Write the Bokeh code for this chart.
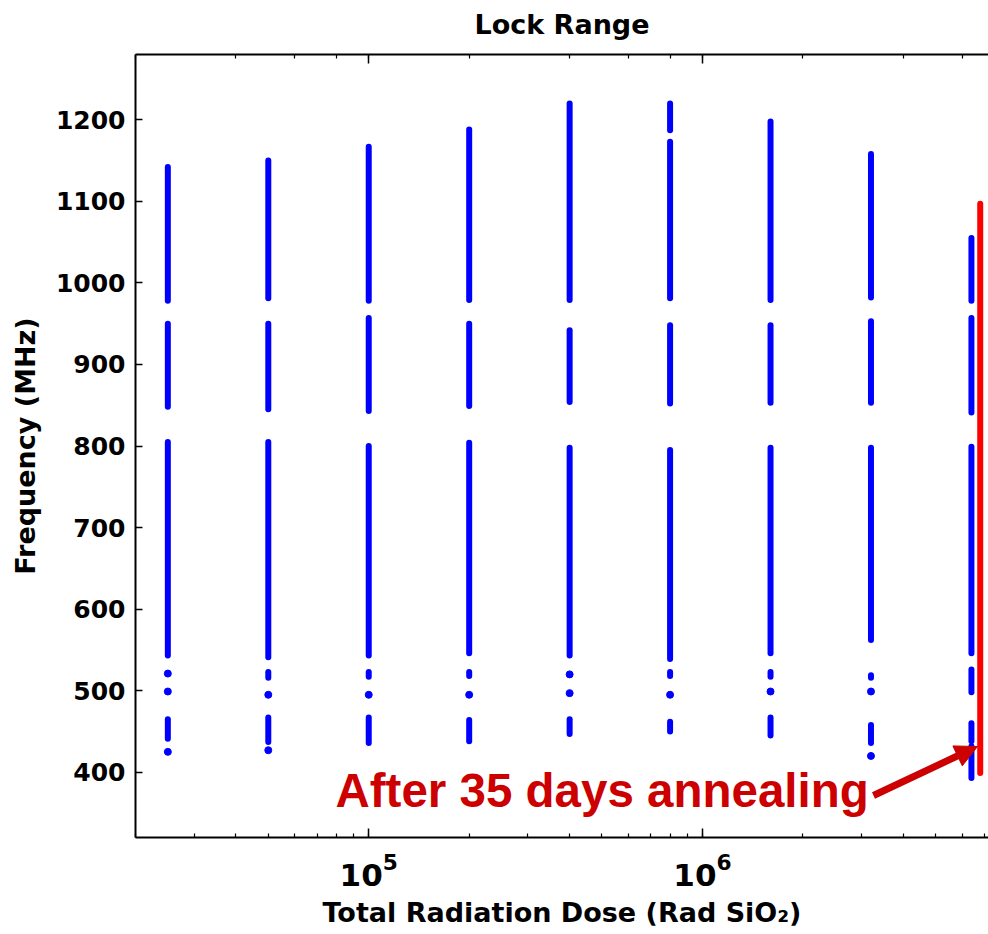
import math
from bokeh.plotting import figure
from bokeh.models import (Label, Arrow, NormalHead, FixedTicker, LogAxis,
                          CustomJSTickFormatter, Range1d, Title)
from bokeh.embed import file_html
from bokeh.resources import INLINE

# ---------------- data ----------------
# locked-frequency ranges (MHz) measured at each total dose (rad SiO2)
seg_dose = [2.5e4, 2.5e4, 2.5e4, 2.5e4,
            5e4, 5e4, 5e4, 5e4, 5e4,
            1e5, 1e5, 1e5, 1e5, 1e5,
            2e5, 2e5, 2e5, 2e5, 2e5,
            4e5, 4e5, 4e5, 4e5,
            8e5, 8e5, 8e5, 8e5, 8e5, 8e5,
            1.6e6, 1.6e6, 1.6e6, 1.6e6, 1.6e6,
            3.2e6, 3.2e6, 3.2e6, 3.2e6, 3.2e6,
            6.4e6, 6.4e6, 6.4e6, 6.4e6, 6.4e6, 6.4e6]
seg_lo = [978, 848, 543, 441,
          981, 845, 541, 516, 437,
          978, 843, 543, 517, 436,
          979, 849, 546, 518, 438,
          979, 854, 543, 447,
          1187, 981, 852, 539, 518, 450,
          979, 853, 546, 517, 445,
          982, 853, 562, 516, 436,
          978, 841, 546, 498, 438, 393]
seg_hi = [1142, 950, 805, 465,
          1150, 950, 805, 523, 467,
          1167, 957, 800, 523, 467,
          1188, 950, 804, 523, 464,
          1220, 942, 798, 465,
          1220, 1173, 948, 795, 523, 462,
          1198, 948, 798, 523, 467,
          1158, 953, 798, 519, 458,
          1055, 957, 799, 526, 460, 432]
# isolated single lock points
dot_dose = [2.5e4, 2.5e4, 2.5e4, 5e4, 5e4, 1e5, 2e5, 4e5, 4e5, 8e5, 1.6e6, 3.2e6, 3.2e6]
dot_freq = [521, 499, 425, 495, 427, 495, 495, 520, 497, 495, 499, 499, 420]
# after 35 days annealing
anneal_dose = [6.8e6]
anneal_lo = [399]
anneal_hi = [1097]

y_ticks = [400, 500, 600, 700, 800, 900, 1000, 1100, 1200]

# ---------------- layout helpers ----------------
X0, X1 = 2e4, 7.2e6
Y0, Y1 = 320, 1280
FL, FR, FT, FB = 135, 988, 54, 837


def x_at(px):
    lx0, lx1 = math.log10(X0), math.log10(X1)
    return 10 ** (lx0 + (px - FL) * (lx1 - lx0) / (FR - FL))


def y_at(py):
    return Y0 + (FB - py) * (Y1 - Y0) / (FB - FT)


FONT = "DejaVu Sans"

p = figure(width=988, height=934, x_axis_type="log",
           x_range=Range1d(X0, X1), y_range=Range1d(Y0, Y1),
           output_backend="svg", toolbar_location=None,
           min_border_left=FL, min_border_right=0,
           min_border_top=FT, min_border_bottom=934 - FB)
p.title = None
p.grid.visible = False
p.outline_line_color = None
p.background_fill_color = "white"
p.border_fill_color = "white"

# y axis
yax = p.yaxis[0]
yax.ticker = FixedTicker(ticks=y_ticks)
yax.minor_tick_line_color = None
yax.major_tick_in = 7
yax.major_tick_out = 0
yax.major_label_text_font = FONT
yax.major_label_text_font_size = "25px"
yax.major_label_text_font_style = "bold"
yax.major_label_text_color = "black"
yax.major_label_standoff = 10
yax.axis_label = "Frequency (MHz)"
yax.axis_label_text_font = FONT
yax.axis_label_text_font_size = "27px"
yax.axis_label_text_font_style = "bold"
yax.axis_label_text_color = "black"
yax.axis_label_standoff = 12
yax.axis_line_width = 2
yax.major_tick_line_width = 1.5

# x axes (bottom with 10^n labels, top with ticks only)
xax = p.xaxis[0]
xax.major_label_text_font = FONT
xax.major_label_text_font_size = "31px"
xax.major_label_text_font_style = "bold"
xax.major_label_text_color = "black"
xax.major_label_standoff = 15
xax.axis_label = "Total Radiation Dose (Rad SiO\u2082)"
xax.axis_label_text_font = FONT
xax.axis_label_text_font_size = "27px"
xax.axis_label_text_font_style = "bold"
xax.axis_label_text_color = "black"
xax.axis_label_standoff = 8

top = LogAxis(formatter=CustomJSTickFormatter(code="return ''"))
top.major_label_text_font_size = "1px"
p.add_layout(top, "above")
for ax in (xax, top):
    ax.major_tick_in = 9
    ax.major_tick_out = 0
    ax.minor_tick_in = 4
    ax.minor_tick_out = 0
    ax.axis_line_width = 2
    ax.major_tick_line_width = 1.5
    ax.minor_tick_line_width = 1.2

# title, lifted above the frame by an empty spacer row
p.add_layout(Title(text=" ", text_font_size="1px", standoff=7), "above")
p.add_layout(Title(text="Lock Range", align="center", text_font=FONT,
                   text_font_size="27px", text_font_style="bold",
                   text_color="black"), "above")

# data marks
p.segment(x0=seg_dose, y0=seg_lo, x1=seg_dose, y1=seg_hi,
          line_width=6, line_color="#0000FF", line_cap="round")
p.scatter(dot_dose, dot_freq, size=7, color="#0000FF")
p.segment(x0=anneal_dose, y0=anneal_lo, x1=anneal_dose, y1=anneal_hi,
          line_width=6, line_color="#FF0000", line_cap="round")

# annotation
p.add_layout(Label(x=x_at(335), y=y_at(790), text="After 35 days annealing",
                   text_align="left", text_baseline="alphabetic",
                   text_font="Liberation Sans", text_font_size="47.5px",
                   text_font_style="bold", text_color="#CC0000"))
p.add_layout(Arrow(x_start=x_at(873), y_start=y_at(795),
                   x_end=x_at(977), y_end=y_at(746),
                   line_color="#CC0000", line_width=7,
                   end=NormalHead(size=22, fill_color="#CC0000",
                                  line_color="#CC0000", line_width=1)))

open("out.html", "w").write(file_html(p, INLINE))
